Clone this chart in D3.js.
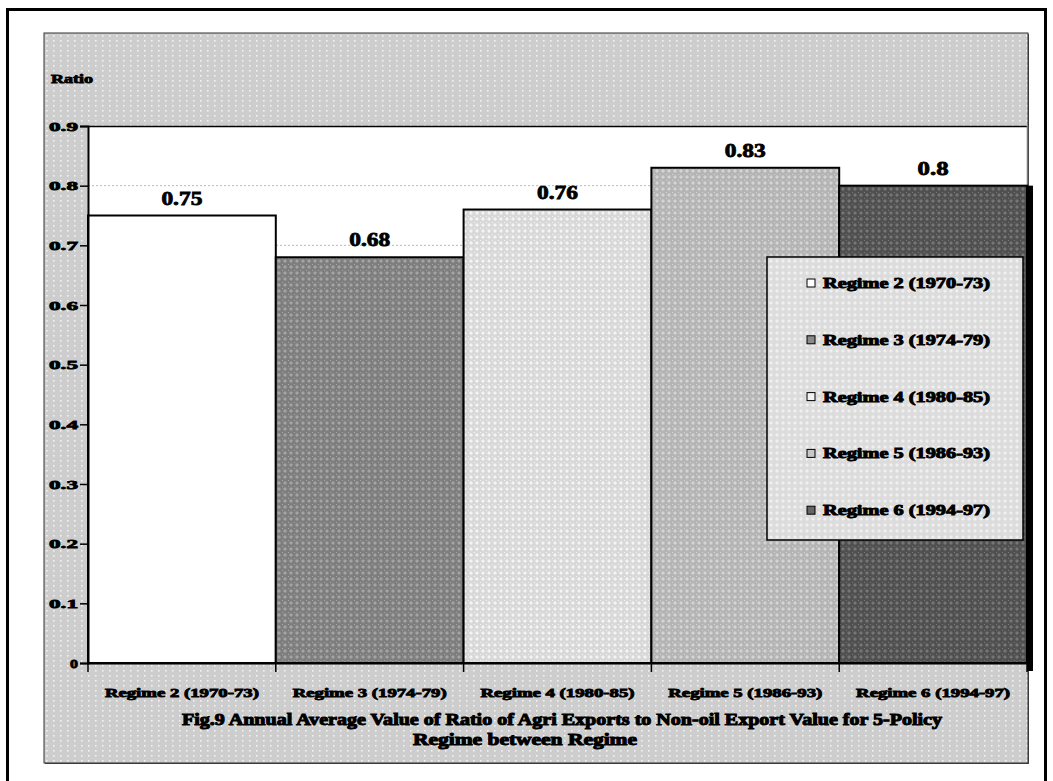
<!DOCTYPE html>
<html>
<head>
<meta charset="utf-8">
<script src="https://cdn.jsdelivr.net/npm/d3@7/dist/d3.min.js"></script>
<style>
  html, body { margin: 0; padding: 0; background: #fff; }
  svg { display: block; }
  text { font-family: "Liberation Serif", "Times New Roman", serif; font-weight: bold; fill: #000; }
</style>
</head>
<body>
<svg id="chart" width="1053" height="781"></svg>
<script>
// ---- data ----
const categories = ["Regime 2 (1970-73)", "Regime 3 (1974-79)", "Regime 4 (1980-85)", "Regime 5 (1986-93)", "Regime 6 (1994-97)"];
const values = [0.75, 0.68, 0.76, 0.83, 0.8];
const valueLabels = ["0.75", "0.68", "0.76", "0.83", "0.8"];
const yTicks = [0, 0.1, 0.2, 0.3, 0.4, 0.5, 0.6, 0.7, 0.8, 0.9];
const yTickLabels = ["0", "0.1", "0.2", "0.3", "0.4", "0.5", "0.6", "0.7", "0.8", "0.9"];
const yAxisTitle = "Ratio";
const titleLines = ["Fig.9 Annual Average Value of Ratio of Agri Exports to Non-oil Export Value for 5-Policy", "Regime  between  Regime"];

// ---- styles ----
const patternDefs = [
  { id: "p0", base: "#ffffff", dot: "#ffffff" },
  { id: "p1", base: "#7e7e7e", dot: "#a4a4a4" },
  { id: "p2", base: "#d8d8d8", dot: "#f4f4f4" },
  { id: "p3", base: "#b4b4b4", dot: "#d4d4d4" },
  { id: "p4", base: "#505050", dot: "#767676" }
];
const swatchColors = ["#ffffff", "#8a8a8a", "#f2f2f2", "#c8c8c8", "#666666"];

const svg = d3.select("#chart");
const defs = svg.append("defs");

// background dotted pattern
const bg = defs.append("pattern").attr("id", "bgpat").attr("patternUnits", "userSpaceOnUse")
  .attr("width", 7).attr("height", 10).attr("x", 44).attr("y", 33);
bg.append("rect").attr("width", 7).attr("height", 10).attr("fill", "#cdcdcd");
bg.append("rect").attr("x", 2).attr("y", 2).attr("width", 1.6).attr("height", 1.6).attr("fill", "#f2f2f2");
bg.append("rect").attr("x", 2).attr("y", 7).attr("width", 1.6).attr("height", 1.6).attr("fill", "#f2f2f2");

patternDefs.forEach(p => {
  const pat = defs.append("pattern").attr("id", p.id).attr("patternUnits", "userSpaceOnUse")
    .attr("width", 6).attr("height", 6);
  pat.append("rect").attr("width", 6).attr("height", 6).attr("fill", p.base);
  pat.append("path").attr("d", "M3,1 L5,3 L3,5 L1,3 Z").attr("fill", p.dot);
  pat.append("rect").attr("x", 0).attr("y", 0).attr("width", 1).attr("height", 1).attr("fill", p.dot);
});
const leg = defs.append("pattern").attr("id", "legpat").attr("patternUnits", "userSpaceOnUse")
  .attr("width", 6).attr("height", 6);
leg.append("rect").attr("width", 6).attr("height", 6).attr("fill", "#dcdcdc");
leg.append("path").attr("d", "M3,1 L5,3 L3,5 L1,3 Z").attr("fill", "#f0f0f0");

// outer frame
svg.append("rect").attr("x", 7.5).attr("y", 9.5).attr("width", 1038).attr("height", 790)
  .attr("fill", "#fff").attr("stroke", "#000").attr("stroke-width", 3);

// chart area
svg.append("rect").attr("x", 45).attr("y", 34).attr("width", 984).attr("height", 730).attr("fill", "#444");
svg.append("rect").attr("x", 44).attr("y", 33).attr("width", 984).attr("height", 730)
  .attr("fill", "url(#bgpat)").attr("stroke", "#333").attr("stroke-width", 1);

// plot geometry
const plotLeft = 88, plotRight = 1027, plotTop = 126, plotBottom = 663;
const x = d3.scaleBand().domain(categories).range([plotLeft, plotRight]).padding(0);
const y = d3.scaleLinear().domain([0, 0.9]).range([plotBottom, plotTop]);

// plot background
svg.append("rect").attr("x", plotLeft).attr("y", plotTop).attr("width", plotRight - plotLeft).attr("height", plotBottom - plotTop)
  .attr("fill", "#fff");

// gridlines
svg.append("g").selectAll("line").data(yTicks.filter(d => d > 0 && d < 0.9)).join("line")
  .attr("x1", plotLeft).attr("x2", plotRight).attr("y1", d => y(d)).attr("y2", d => y(d))
  .attr("stroke", "#b8b8b8").attr("stroke-width", 1).attr("stroke-dasharray", "2,2");

// plot border top/right
svg.append("line").attr("x1", plotLeft).attr("x2", plotRight).attr("y1", plotTop + 0.5).attr("y2", plotTop + 0.5)
  .attr("stroke", "#000").attr("stroke-width", 1.5);
svg.append("line").attr("x1", plotRight + 0.5).attr("x2", plotRight + 0.5).attr("y1", plotTop).attr("y2", plotBottom)
  .attr("stroke", "#777").attr("stroke-width", 1.5);

// last bar shadow
const lastVal = values[values.length - 1];
svg.append("rect").attr("x", plotRight).attr("y", y(lastVal))
  .attr("width", 6).attr("height", plotBottom - y(lastVal) + 8).attr("fill", "#000");

// bars
svg.append("g").selectAll("rect").data(values).join("rect")
  .attr("x", (d, i) => x(categories[i]))
  .attr("y", d => y(d))
  .attr("width", x.bandwidth())
  .attr("height", d => plotBottom - y(d))
  .attr("fill", (d, i) => `url(#${patternDefs[i].id})`)
  .attr("stroke", "#000").attr("stroke-width", 2);

// value labels
svg.append("g").selectAll("text").data(values).join("text")
  .attr("x", (d, i) => x(categories[i]) + x.bandwidth() / 2)
  .attr("y", d => y(d) - 11)
  .attr("text-anchor", "middle")
  .attr("font-size", 19)
  .attr("textLength", (d, i) => valueLabels[i].length === 3 ? 31 : 41)
  .attr("lengthAdjust", "spacingAndGlyphs")
  .attr("stroke", "#000").attr("stroke-width", 0.8)
  .text((d, i) => valueLabels[i]);

// y axis
const yAxis = d3.axisLeft(y).tickValues(yTicks).tickSize(8).tickPadding(2)
  .tickFormat((d, i) => yTickLabels[i]);
const gy = svg.append("g").attr("transform", `translate(${plotLeft},0)`).call(yAxis);
gy.select(".domain").attr("stroke", "#000").attr("stroke-width", 2);
gy.selectAll(".tick line").attr("stroke", "#000").attr("stroke-width", 1.5);
gy.selectAll(".tick text")
  .attr("font-family", "'Liberation Serif', serif").attr("font-weight", "bold")
  .attr("font-size", 13).attr("fill", "#000")
  .attr("textLength", (d, i) => yTickLabels[i].length === 1 ? 8 : 29)
  .attr("lengthAdjust", "spacingAndGlyphs")
  .attr("stroke", "#000").attr("stroke-width", 0.8);

// x axis
const xAxis = d3.axisBottom(x).tickSize(0).tickFormat(d => d);
const gx = svg.append("g").attr("transform", `translate(0,${plotBottom})`).call(xAxis);
gx.select(".domain").attr("stroke", "#000").attr("stroke-width", 2);
gx.selectAll(".tick text").attr("dy", 0).attr("y", 34)
  .attr("font-family", "'Liberation Serif', serif").attr("font-weight", "bold")
  .attr("font-size", 13).attr("fill", "#000")
  .attr("textLength", 154).attr("lengthAdjust", "spacingAndGlyphs")
  .attr("stroke", "#000").attr("stroke-width", 0.9);
// category separator ticks
svg.append("g").selectAll("line").data(d3.range(categories.length + 1)).join("line")
  .attr("x1", i => plotLeft + i * x.bandwidth()).attr("x2", i => plotLeft + i * x.bandwidth())
  .attr("y1", plotBottom).attr("y2", plotBottom + 9)
  .attr("stroke", "#000").attr("stroke-width", 1.5);

// y axis title
svg.append("text").attr("x", 51).attr("y", 83).attr("font-size", 12)
  .attr("textLength", 42).attr("lengthAdjust", "spacingAndGlyphs")
  .attr("stroke", "#000").attr("stroke-width", 0.8)
  .text(yAxisTitle);

// chart title
svg.append("text").attr("x", 182).attr("y", 725).attr("font-size", 16)
  .attr("textLength", 760).attr("lengthAdjust", "spacingAndGlyphs")
  .attr("stroke", "#000").attr("stroke-width", 1)
  .text(titleLines[0]);
svg.append("text").attr("x", 413).attr("y", 745).attr("font-size", 16)
  .attr("textLength", 224).attr("lengthAdjust", "spacingAndGlyphs")
  .attr("stroke", "#000").attr("stroke-width", 1)
  .text(titleLines[1]);

// legend
const lg = svg.append("g");
lg.append("rect").attr("x", 767).attr("y", 257).attr("width", 256).attr("height", 283)
  .attr("fill", "url(#legpat)").attr("stroke", "#000").attr("stroke-width", 1.5);
const items = lg.selectAll("g.item").data(categories).join("g").attr("class", "item")
  .attr("transform", (d, i) => `translate(807,${283 + i * 56.8})`);
items.append("rect").attr("x", 0).attr("y", -4).attr("width", 8).attr("height", 8)
  .attr("fill", (d, i) => swatchColors[i]).attr("stroke", "#000").attr("stroke-width", 1);
items.append("text").attr("x", 16).attr("y", 5).attr("font-size", 14)
  .attr("textLength", 167).attr("lengthAdjust", "spacingAndGlyphs")
  .attr("stroke", "#000").attr("stroke-width", 0.9)
  .text(d => d);
</script>
</body>
</html>
